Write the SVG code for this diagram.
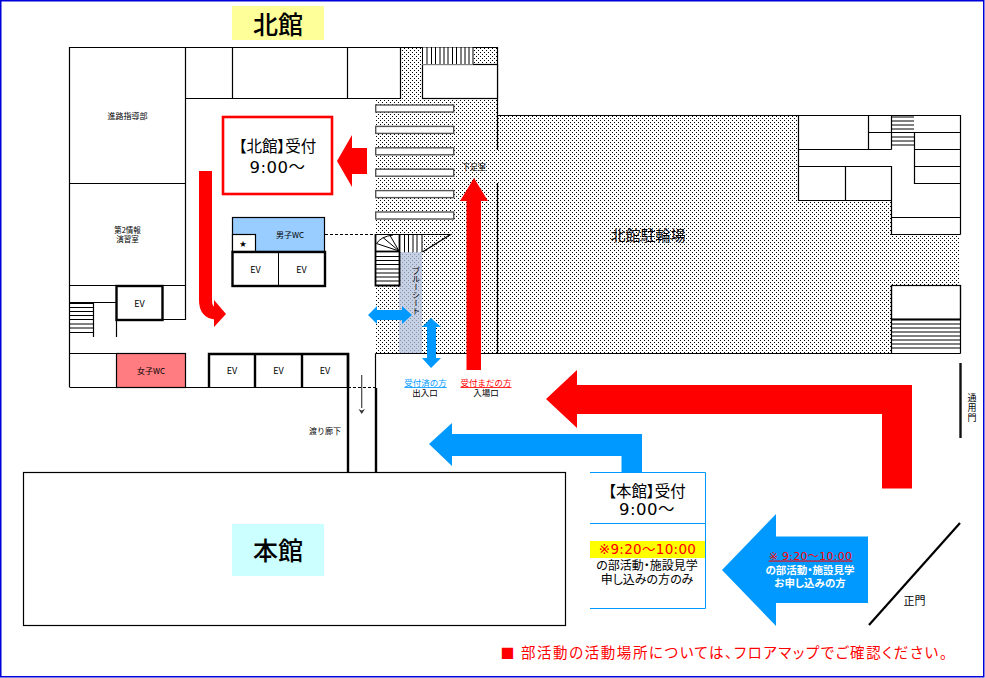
<svg xmlns="http://www.w3.org/2000/svg" width="985" height="678" viewBox="0 0 985 678">
<style>
text{font-family:"Noto Sans CJK JP","Noto Sans",sans-serif;fill:#000;text-anchor:middle}
.w{fill:none;stroke:#000;stroke-width:1.2}
.room{fill:#fff;stroke:#000;stroke-width:1.2}
.ev{fill:#fff;stroke:#000;stroke-width:2.4}
.thin{fill:none;stroke:#000;stroke-width:1}
.bar{fill:#fff;stroke:#555;stroke-width:1.4}
.s8{font-size:8px}.s9{font-size:9px}
.big{font-size:25px;font-weight:500}
.recv{font-size:15.5px;font-feature-settings:"palt"}
.time{font-family:"DejaVu Sans","Noto Sans CJK JP",sans-serif;font-size:16.5px;letter-spacing:.5px}
.red{fill:#f00}.blue{fill:#09f}
.b12{font-size:12px;font-feature-settings:"palt"}
.wh{font-size:10.5px;fill:#fff;font-weight:700;font-feature-settings:"palt"}
</style>
<defs>
<pattern id="dots" width="4" height="4" patternUnits="userSpaceOnUse">
<rect width="4" height="4" fill="#fff"/><rect x="0" y="0" width="1" height="1" fill="#000"/><rect x="2" y="2" width="1" height="1" fill="#000"/>
</pattern>
</defs>
<rect x="0" y="0" width="985" height="678" fill="#fff"/>
<rect x="0.75" y="0.75" width="983" height="676" fill="none" stroke="#0000d8" stroke-width="1.5"/>

<g id="floor-dots">
<path fill="url(#dots)" d="M400 47H497V115H798V200H891V234H960V285H891V353H376V98H400Z"/>
<rect x="399" y="252" width="23" height="101" fill="#b4c2dc" opacity=".75"/>
</g>

<g id="north-building">
<path class="w" d="M69.5 387V47.5H497.5V150M497.5 183V353.5M69.5 183.5H185.5M185.500 47.5V285.5M185.5 98.5H400.5V47.5M232.5 47.5V98.5M347.5 47.5V98.5M497.5 115.5H960.5V234.5"/>
<rect class="room" x="422.500" y="64.5" width="75" height="34"/>
<rect x="422" y="47.500" width="51" height="17" fill="#fff"/>
<path class="thin" d="M422.500 47V64M427 47V64M431.500 47V64M435.500 47V64M440 47V64M444 47V64M448 47V64M452.500 47V64M456.500 47V64M461 47V64M465 47V64M469 47V64M473 47V64"/>
<path class="w" d="M69.500 285.500H185.500V319.500H162M69.500 302.500H116M69.500 353.500H185.500M69.500 387.500H348M93.500 302V337M116.500 320V337"/>
<path class="thin" d="M69.500 303.500H93M69.500 307.500H93M69.500 311.500H93M69.500 315.500H93M69.500 319.500H93M69.500 324H93M69.500 328H93M69.500 332.500H93"/>
<path d="M325 234.500H375M348 387.500H375" stroke="#000" stroke-width="1" stroke-dasharray="3 2" fill="none"/>
<path class="w" d="M375.500 353.500H497.500M375.500 353.500V388"/>
<path d="M348 353V472M376 388V472" stroke="#000" stroke-width="2.400" fill="none"/>
<rect x="399.500" y="234.500" width="23" height="17.500" fill="#fff"/>
<path class="w" d="M399.500 234.500H450.500L422.500 252"/>
<path class="thin" d="M404.500 234V252M408.500 234V252M413 234V252M417 234V252M422 234V252"/>
<rect x="375.500" y="234.500" width="24" height="51" fill="#fff"/>
<path d="M375.500 234V285.500H399.500V234" stroke="#000" stroke-width="1.800" fill="none"/>
<path class="thin" d="M375.500 234.500H399.500"/>
<path d="M375.500 251.500H399.500" stroke="#000" stroke-width="1.800"/>
<path class="thin" d="M375.500 256.500H399M375.500 260.500H399M375.500 264.500H399M375.500 269H399M375.500 273H399M375.500 277H399M375.500 281H399"/>
<path class="thin" d="M376.500 243.500Q381 236.500 393 235M399 251L376.500 243.500M399 251L383 237.500M399 251L390 235.500"/>
</g>

<g id="north-east-wing">
<path class="w" d="M798.500 115.500V200.500H891.500V234.500H960.500M798.500 149.500H891.500M798.500 166.500H891.500V234M845.500 166.500V200.500M868.500 115.500V149.500M868.500 132.500H960.500M891.500 115.500V149.500M914.500 132.500V183.500H960.500M914.500 149.500H960.500M914.500 166.500H960.500M891.500 217.500H960.500"/>
<path class="thin" d="M892 117H914M892 121H914M892 125H914M892 129H914M892 137H914M892 141H914M892 145H914"/>
<rect class="room" x="891.500" y="285.500" width="69" height="34"/>
<path d="M891 319.500H960.500" stroke="#000" stroke-width="2"/>
<path class="thin" d="M891 324H960M891 328H960M891 332H960M891 336H960M891 340H960M891 344H960M891 348H960"/>
<path class="w" d="M891.500 285V353.500M960.500 285V353.500M497 353.500H960.500"/>
</g>

<g id="stripes">
<rect class="bar" x="375.700" y="105" width="78" height="7"/>
<rect class="bar" x="375.700" y="126.400" width="78" height="7"/>
<rect class="bar" x="375.700" y="147.800" width="78" height="7"/>
<rect class="bar" x="375.700" y="169.200" width="78" height="7"/>
<rect class="bar" x="375.700" y="190.600" width="78" height="7"/>
<rect class="bar" x="375.700" y="212" width="78" height="7"/>
</g>

<g id="title-north"><rect x="232" y="6" width="92" height="34" fill="#ffff99"/><text class="big" x="278" y="34">北館</text></g>
<g id="room-shinro"><text class="s8" x="127.500" y="119">進路指導部</text></g>
<g id="room-joho"><text x="127.500" y="233" style="font-size:7.500px">第2情報</text><text x="127.500" y="242" style="font-size:7.500px">演習室</text></g>
<g id="room-wc-men">
<rect x="232.500" y="217.500" width="92" height="34" stroke="#000" stroke-width="1.200" fill="#9cf"/>
<rect class="room" x="232.500" y="234.500" width="23" height="17"/>
<text x="243" y="246" style="font-size:7px">★</text>
<text class="s8" x="290" y="238">男子WC</text>
</g>
<g id="ev-north"><rect class="ev" x="232.500" y="252" width="92.500" height="34"/><path class="thin" d="M278.500 252V286"/><text class="s9" x="255.500" y="273">EV</text><text class="s9" x="301.500" y="273">EV</text></g>
<g id="ev-west"><rect class="ev" x="116.500" y="286" width="46" height="34"/><text class="s9" x="139.500" y="306.500">EV</text></g>
<g id="room-wc-women"><rect x="116.500" y="353.500" width="69" height="34" fill="#ff7c80" stroke="#000" stroke-width="1.200"/><text class="s8" x="151" y="374">女子WC</text></g>
<g id="ev-south">
<path d="M209 387V354H348V387M255 354V387M302 354V387" fill="none" stroke="#000" stroke-width="2.400"/>
<text class="s9" x="232" y="374">EV</text><text class="s9" x="278.500" y="374">EV</text><text class="s9" x="325" y="374">EV</text>
</g>
<g id="reception-north">
<rect x="223" y="117" width="109" height="77" fill="#fff" stroke="#f00" stroke-width="2.600"/>
<text class="recv" x="277.500" y="152">【北館】受付</text>
<text class="time" x="277.500" y="172.500">9:00～</text>
</g>
<g id="label-shoes"><text class="s8" x="474" y="170">下足室</text></g>
<g id="label-bluesheet"><text class="s8" x="416" y="267" style="writing-mode:vertical-rl;text-anchor:start">ブルーシート</text></g>
<g id="label-bike"><text x="648" y="241" style="font-size:15px">北館駐輪場</text></g>
<g id="label-corridor"><text class="s8" x="325" y="434">渡り廊下</text></g>
<g id="entry-done"><text class="s8 blue" x="425.500" y="386" text-decoration="underline" style="font-size:8.500px">受付済の方</text><text class="s8" x="425" y="396" style="font-size:8.500px">出入口</text></g>
<g id="entry-new"><text class="s8 red" x="486" y="386" text-decoration="underline" style="font-size:8.500px">受付まだの方</text><text class="s8" x="486" y="396" style="font-size:8.500px">入場口</text></g>

<g id="main-building"><rect class="room" x="23.500" y="472.500" width="542" height="153"/></g>
<g id="title-main"><rect x="232" y="524" width="92" height="52" fill="#ccffff"/><text class="big" x="278" y="560">本館</text></g>
<g id="reception-main">
<rect x="590" y="541" width="115" height="17" fill="#ff0"/>
<path d="M590 472.500H705.500V608.500H590M590 523.500H705.500" fill="none" stroke="#09f" stroke-width="1"/>
<text class="recv" x="647" y="497">【本館】受付</text>
<text class="time" x="647" y="514.500">9:00～</text>
<text class="red" x="647.500" y="553.500" style="font-family:'DejaVu Sans','Noto Sans CJK JP',sans-serif;font-size:13.500px;letter-spacing:.3px">※9:20～10:00</text>
<text class="b12" x="647" y="569.500">の部活動・施設見学</text>
<text class="b12" x="647" y="583.500">申し込みの方のみ</text>
</g>
<g id="gate-side"><path d="M960.500 363V438" stroke="#111" stroke-width="2.400"/><text x="972" y="393" style="writing-mode:vertical-rl;text-anchor:start;font-size:9px;letter-spacing:1px">通用門</text></g>
<g id="gate-main"><path d="M869 625L960 523" stroke="#000" stroke-width="2.200"/><text x="914.500" y="605" style="font-size:11px">正門</text></g>

<g id="connectors">
<path class="blue" d="M429 444L452 423V434H642V472H621.500V456H452V466Z"/>
<path class="red" d="M546 399L577 370V385H912V488.500H882V414H577V428Z"/>
<path class="red" d="M474 178L488 201H481V370H466.500V201H460Z"/>
<path class="red" d="M337 161L352 135V148H367V174H352V187Z"/>
<path d="M205.500 171V300Q205.500 313 216 313" fill="none" stroke="#f00" stroke-width="13"/>
<path class="red" d="M226 314L214 300V327Z"/>
<path class="blue" d="M368 315L377 306V310H402V306L412 315L402 324V320H377V324Z"/>
<path class="blue" d="M431 318L441 327H436V358H441L431 368L422 358H427V327H422Z"/>
<path d="M361.700 375V408" stroke="#444" stroke-width="1.200"/><path d="M358.500 409L361.700 414L365 409L361.700 410.500Z" fill="#333"/>
</g>

<g id="arrow-apply">
<path class="blue" d="M722 570L776 514V536.500H868V603H776V626Z"/>
<text class="red" x="810.500" y="559.500" text-decoration="underline" style="font-family:'DejaVu Sans','Noto Sans CJK JP',sans-serif;font-size:11px;letter-spacing:.3px">※ 9:20～10:00</text>
<text class="wh" x="810" y="573.500">の部活動・施設見学</text>
<text class="wh" x="810" y="587">お申し込みの方</text>
</g>
<g id="note">
<text class="red" x="507.500" y="658" style="font-size:14px">■</text>
<text class="red" x="521" y="658" style="font-size:14.500px;text-anchor:start;font-feature-settings:'palt'" textLength="426" lengthAdjust="spacing">部活動の活動場所については、フロアマップでご確認ください。</text>
</g>
</svg>
